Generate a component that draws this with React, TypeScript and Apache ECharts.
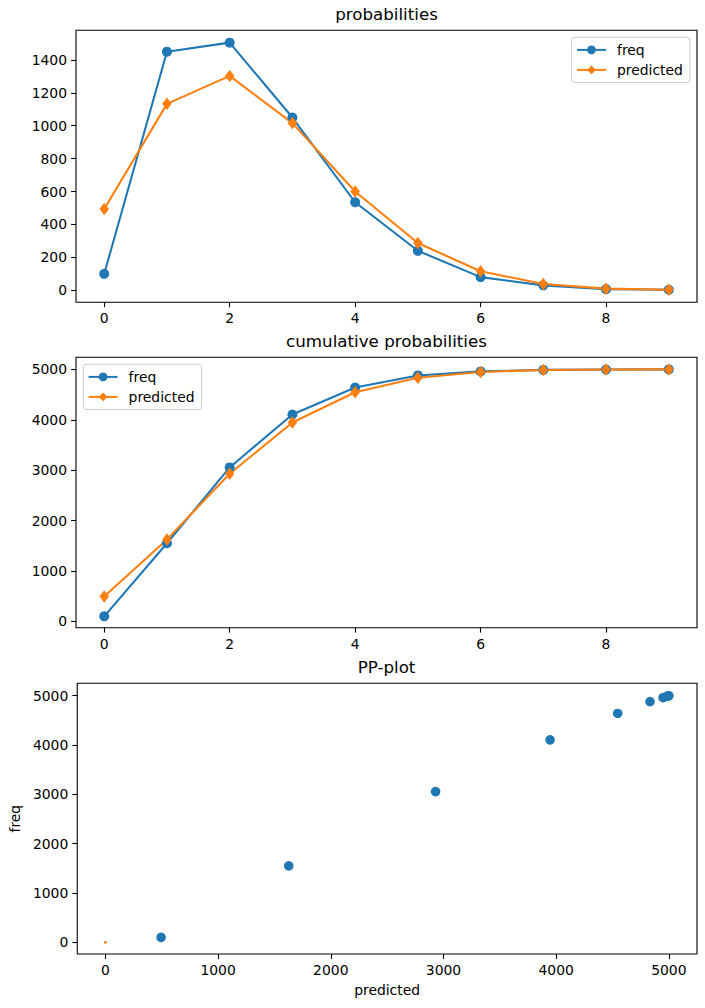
import React, { useEffect, useRef } from "react";
import * as echarts from "echarts";

const xCats = [0, 1, 2, 3, 4, 5, 6, 7, 8, 9];
const freqVals = [100, 1450, 1505, 1050, 535, 240, 80, 30, 7, 3];
const predVals = [494, 1133, 1303, 1016, 600, 287, 116, 38, 10, 3];
const freqCum = [100, 1550, 3055, 4105, 4640, 4880, 4960, 4990, 4997, 5000];
const predCum = [494, 1627, 2930, 3946, 4546, 4833, 4949, 4987, 4997, 5000];
const xTicks = [0, 2, 4, 6, 8];
const y1Ticks = [0, 200, 400, 600, 800, 1000, 1200, 1400];
const y2Ticks = [0, 1000, 2000, 3000, 4000, 5000];
const ppTicks = [0, 1000, 2000, 3000, 4000, 5000];
const originPoint = [[0, 0]];
const titles = ["probabilities", "cumulative probabilities", "PP-plot"];

const BLUE = "#1f77b4";
const ORANGE = "#ff7f0e";
const FONT = "DejaVu Sans";

export default function App() {
  const ref = useRef<HTMLDivElement>(null);
  useEffect(() => {
    if (!ref.current) return;
    const chart = echarts.init(ref.current, null, { renderer: "svg" });
    const grids = [
      { left: 76, top: 30.3, width: 621, height: 272 },
      { left: 76, top: 357.3, width: 621, height: 270.4 },
      { left: 76, top: 683.3, width: 621, height: 270.7 },
    ].map((g) => ({ ...g, show: true, borderColor: "#000", borderWidth: 1.1, backgroundColor: "transparent" }));

    const baseAxis = (ticks: number[], min: number, max: number, gridIndex: number) => ({
      type: "value",
      gridIndex,
      min,
      max,
      axisLine: { show: false, onZero: false },
      splitLine: { show: false },
      axisTick: { show: true, length: 4.9, lineStyle: { color: "#000", width: 1.1 }, customValues: ticks },
      axisLabel: {
        show: true,
        margin: 9,
        color: "#000",
        fontSize: 13.9,
        fontFamily: FONT,
        customValues: ticks,
        formatter: (v: number) => String(v),
      },
    });

    const pairs = (xs: number[], ys: number[]) => xs.map((x, i) => [x, ys[i]]);

    const lineSeries = (name: string, data: number[][], idx: number, color: string, diamond: boolean) => ({
      type: "line",
      name,
      xAxisIndex: idx,
      yAxisIndex: idx,
      data,
      symbol: diamond ? "diamond" : "circle",
      symbolSize: diamond ? [9.5, 12.5] : 10,
      showSymbol: true,
      itemStyle: { color, opacity: 1 },
      lineStyle: { color, width: 2.08 },
      emphasis: { disabled: true },
    });

    const legendBase = {
      orient: "vertical",
      padding: [5.6, 7, 5.6, 4.3],
      itemWidth: 29,
      itemHeight: 11,
      itemGap: 6,
      borderColor: "#cccccc",
      borderWidth: 1,
      borderRadius: 3,
      backgroundColor: "rgba(255,255,255,0.8)",
      selectedMode: false,
      textStyle: { fontSize: 13.9, color: "#000", fontFamily: FONT, padding: [0, 0, 0, 6] },
      data: ["freq", "predicted"],
    };

    chart.setOption({
      animation: false,
      backgroundColor: "#fff",
      textStyle: { fontFamily: FONT },
      title: [
        { text: titles[0], left: 386.5, top: 5, textAlign: "center" },
        { text: titles[1], left: 386.5, top: 332, textAlign: "center" },
        { text: titles[2], left: 386.5, top: 658, textAlign: "center" },
      ].map((t) => ({
        ...t,
        padding: 0,
        textStyle: { fontSize: 16.7, fontWeight: "normal", color: "#000", fontFamily: FONT },
      })),
      legend: [
        { ...legendBase, left: 571.7, top: 37.3 },
        { ...legendBase, left: 83.3, top: 364.3 },
      ],
      grid: grids,
      xAxis: [
        baseAxis(xTicks, -0.45, 9.45, 0),
        baseAxis(xTicks, -0.45, 9.45, 1),
        {
          ...baseAxis(ppTicks, -250, 5250, 2),
          name: "predicted",
          nameLocation: "middle",
          nameGap: 29,
          nameTextStyle: { fontSize: 13.9, color: "#000", fontFamily: FONT },
        },
      ],
      yAxis: [
        baseAxis(y1Ticks, -73, 1580, 0),
        baseAxis(y2Ticks, -125, 5240, 1),
        {
          ...baseAxis(ppTicks, -237, 5251, 2),
          name: "freq",
          nameLocation: "middle",
          nameGap: 52,
          nameTextStyle: { fontSize: 13.9, color: "#000", fontFamily: FONT },
        },
      ],
      series: [
        lineSeries("freq", pairs(xCats, freqVals), 0, BLUE, false),
        lineSeries("predicted", pairs(xCats, predVals), 0, ORANGE, true),
        lineSeries("freq", pairs(xCats, freqCum), 1, BLUE, false),
        lineSeries("predicted", pairs(xCats, predCum), 1, ORANGE, true),
        {
          type: "scatter",
          name: "pp",
          xAxisIndex: 2,
          yAxisIndex: 2,
          data: pairs(predCum, freqCum),
          symbol: "circle",
          symbolSize: 9.6,
          itemStyle: { color: BLUE, opacity: 1 },
          emphasis: { disabled: true },
        },
        {
          type: "scatter",
          name: "origin",
          xAxisIndex: 2,
          yAxisIndex: 2,
          data: originPoint,
          symbol: "rect",
          symbolSize: 2.5,
          z: 5,
          itemStyle: { color: ORANGE, opacity: 1 },
          emphasis: { disabled: true },
        },
      ],
    });
    return () => chart.dispose();
  }, []);
  return (
    <div
      ref={ref}
      style={{ position: "fixed", left: 0, top: 0, width: 705, height: 1008, background: "#fff" }}
    />
  );
}
